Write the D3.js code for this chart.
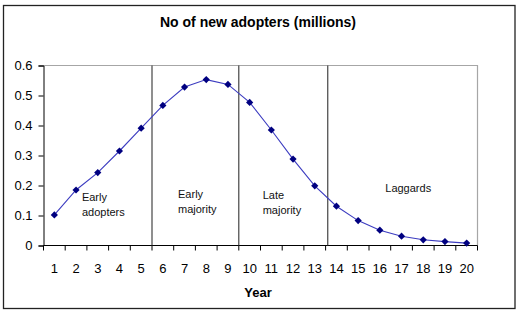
<!DOCTYPE html>
<html>
<head>
<meta charset="utf-8">
<script src="https://cdn.jsdelivr.net/npm/d3@7"></script>
<style>
  html, body { margin: 0; padding: 0; background: #fff; }
  svg { display: block; font-family: "Liberation Sans", Arial, sans-serif; }
</style>
</head>
<body>
<svg id="chart" width="527" height="327"></svg>
<script>
// Years on the horizontal axis
const years = d3.range(1, 21);
// New adopters per year, millions
const adopters = [0.102, 0.185, 0.243, 0.315, 0.391, 0.467, 0.528, 0.553, 0.537, 0.477,
                  0.385, 0.288, 0.199, 0.131, 0.083, 0.051, 0.031, 0.019, 0.013, 0.008];
// Y-axis tick values
const yTicks = [0, 0.1, 0.2, 0.3, 0.4, 0.5, 0.6];
// Adopter segments: divider positions (in year units) and labels
const dividers = [5.5, 9.5, 13.6];
const segmentLabels = [
  { lines: ["Early", "adopters"], x: 2.27, y: 0.148 },
  { lines: ["Early", "majority"], x: 6.7, y: 0.158 },
  { lines: ["Late", "majority"], x: 10.6, y: 0.155 },
  { lines: ["Laggards"], x: 16.25, y: 0.178 }
];

const svg = d3.select("#chart");
const plot = { left: 43.5, right: 477.5, top: 65.5, bottom: 245.5 };

const x = d3.scaleLinear().domain([0.5, 20.5]).range([plot.left, plot.right]);
const y = d3.scaleLinear().domain([0, 0.6]).range([plot.bottom, plot.top]);

// Outer chart frame
svg.append("rect")
  .attr("x", 3.5).attr("y", 5.5).attr("width", 511.5).attr("height", 303)
  .attr("fill", "#fff").attr("stroke", "#222").attr("stroke-width", 1.3);

// Plot area border (top and right)
svg.append("path")
  .attr("d", `M${plot.left},${plot.top}H${plot.right}V${plot.bottom}`)
  .attr("fill", "none").attr("stroke", "#a6a6a6").attr("stroke-width", 1.2);

// Title
svg.append("text")
  .attr("x", 258).attr("y", 27)
  .attr("text-anchor", "middle")
  .attr("font-size", 14).attr("font-weight", "bold")
  .text("No of new adopters (millions)");

// Y axis
const yAxis = d3.axisLeft(y).tickValues(yTicks).tickSize(5).tickPadding(6)
  .tickFormat(d => d === 0 ? "0" : d3.format(".1f")(d));
const gy = svg.append("g").attr("transform", `translate(${plot.left},0)`).call(yAxis);
gy.select(".domain").attr("stroke", "#000");
gy.selectAll(".tick line").attr("stroke", "#000");
gy.selectAll(".tick text").attr("font-size", 13).attr("fill", "#000")
  .attr("font-family", "Liberation Sans, Arial, sans-serif");

// X axis: ticks on category boundaries, labels at category centers
const boundaries = d3.range(0.5, 21, 1);
const gx = svg.append("g").attr("transform", `translate(0,${plot.bottom})`);
gx.append("line").attr("x1", plot.left).attr("x2", plot.right)
  .attr("stroke", "#000");
gx.selectAll("line.tk").data(boundaries).join("line").attr("class", "tk")
  .attr("x1", d => x(d)).attr("x2", d => x(d))
  .attr("y1", 0).attr("y2", 5).attr("stroke", "#000");
gx.selectAll("text").data(years).join("text")
  .attr("x", d => x(d)).attr("y", 27)
  .attr("text-anchor", "middle").attr("font-size", 13)
  .text(d => d);

// X axis title
svg.append("text")
  .attr("x", 258).attr("y", 297)
  .attr("text-anchor", "middle")
  .attr("font-size", 13).attr("font-weight", "bold")
  .text("Year");

// Segment dividers
svg.selectAll("line.divider").data(dividers).join("line").attr("class", "divider")
  .attr("x1", d => x(d)).attr("x2", d => x(d))
  .attr("y1", plot.top).attr("y2", plot.bottom)
  .attr("stroke", "#333").attr("stroke-width", 1.1);

// Segment labels
segmentLabels.forEach(s => {
  const t = svg.append("text")
    .attr("x", x(s.x)).attr("y", y(s.y))
    .attr("font-size", 11).attr("fill", "#111");
  s.lines.forEach((ln, i) => {
    t.append("tspan").attr("x", x(s.x)).attr("dy", i === 0 ? 0 : 15).text(ln);
  });
});

// Series line
const series = years.map((yr, i) => ({ yr, v: adopters[i] }));
svg.append("path")
  .datum(series)
  .attr("fill", "none")
  .attr("stroke", "#3c3cc0")
  .attr("stroke-width", 1.1)
  .attr("d", d3.line().x(d => x(d.yr)).y(d => y(d.v)));

// Diamond markers
svg.selectAll("path.marker").data(series).join("path").attr("class", "marker")
  .attr("transform", d => `translate(${x(d.yr)},${y(d.v)})`)
  .attr("d", "M0,-3.6L3.6,0L0,3.6L-3.6,0Z")
  .attr("fill", "#000080");
</script>
</body>
</html>
